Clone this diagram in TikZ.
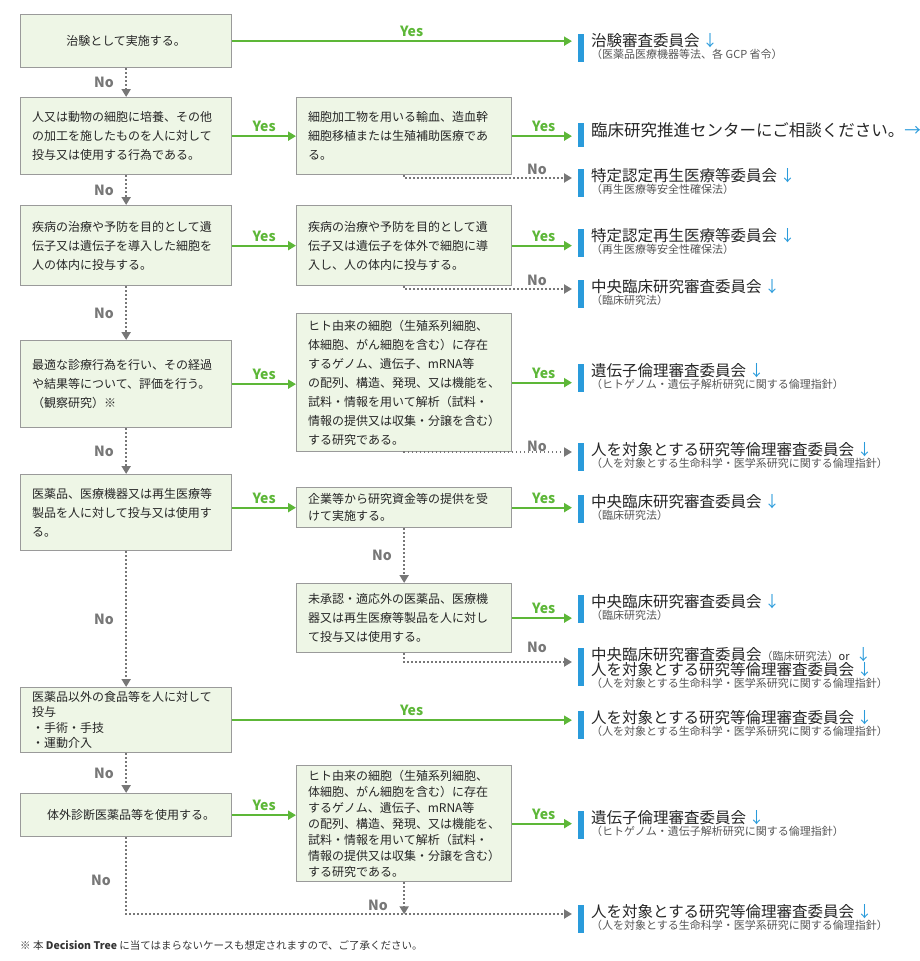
\documentclass[tikz,border=0pt]{standalone}
\usepackage{fontspec}
\setmainfont{Noto Sans CJK JP}
\usetikzlibrary{arrows.meta,calc}
\definecolor{gfill}{HTML}{EEF6E6}
\definecolor{gline}{HTML}{9A9A9A}
\definecolor{yesg}{HTML}{5DB738}
\definecolor{barb}{HTML}{2A9BDB}
\definecolor{nog}{HTML}{777777}
\definecolor{subg}{HTML}{555555}
\newcommand{\ttl}[1]{{\fontsize{15.5}{18}\selectfont #1}}
\newcommand{\sbt}[1]{{\fontsize{11}{14}\selectfont\color{subg}#1}}
\newcommand{\dn}{{\color{barb}\,↓}}
\begin{document}
\begin{tikzpicture}[x=1pt,y=-1pt,
 box/.style={draw=gline,line width=1.3pt,fill=gfill,anchor=north west,inner sep=0pt,
   font=\fontsize{12}{19}\selectfont,align=left,text=black!85},
 rl/.style={anchor=north west,inner sep=0pt,align=left,text=black!85},
 yes/.style={draw=yesg,line width=2pt,-{Triangle[length=8pt,width=9pt]}},
 no/.style={draw=nog,line width=2pt,dash pattern=on 1.5pt off 2.5pt,-{Triangle[length=8pt,width=9pt]}},
 yl/.style={text=yesg,font=\bfseries\fontsize{14}{14}\selectfont},
 nl/.style={text=nog,font=\bfseries\fontsize{14}{14}\selectfont}]
\useasboundingbox (0,0) rectangle (920,961);
% left boxes
\node[box,minimum width=211,minimum height=53,align=center] (b1) at (20,14) {治験として実施する。};
\node[box,minimum width=211,minimum height=77] (b2) at (20,97) {\hspace*{10pt}\parbox{198pt}{人又は動物の細胞に培養、その他\\の加工を施したものを人に対して\\投与又は使用する行為である。}};
\node[box,minimum width=211,minimum height=80] (b3) at (20,205) {\hspace*{10pt}\parbox{198pt}{疾病の治療や予防を目的として遺\\伝子又は遺伝子を導入した細胞を\\人の体内に投与する。}};
\node[box,minimum width=211,minimum height=87] (b4) at (20,340) {\hspace*{10pt}\parbox{198pt}{最適な診療行為を行い、その経過\\や結果等について、評価を行う。\\（観察研究）※}};
\node[box,minimum width=211,minimum height=76] (b5) at (20,474) {\hspace*{10pt}\parbox{198pt}{医薬品、医療機器又は再生医療等\\製品を人に対して投与又は使用す\\る。}};
\node[box,minimum width=211,minimum height=65] (b6) at (20,687) {\hspace*{10pt}\parbox{198pt}{\fontsize{12}{15.5}\selectfont 医薬品以外の食品等を人に対して\\投与\\・手術・手技\\・運動介入}};
\node[box,minimum width=211,minimum height=43] (b7) at (20,793) {\hspace*{10pt}体外診断医薬品等を使用する。};
% middle boxes
\node[box,minimum width=215,minimum height=77] (m2) at (296,97) {\hspace*{10pt}\parbox{202pt}{細胞加工物を用いる輸血、造血幹\\細胞移植または生殖補助医療であ\\る。}};
\node[box,minimum width=215,minimum height=80] (m3) at (296,205) {\hspace*{10pt}\parbox{202pt}{疾病の治療や予防を目的として遺\\伝子又は遺伝子を体外で細胞に導\\入し、人の体内に投与する。}};
\node[box,minimum width=215,minimum height=138] (m4) at (296,313) {\hspace*{10pt}\parbox{202pt}{ヒト由来の細胞（生殖系列細胞、\\体細胞、がん細胞を含む）に存在\\するゲノム、遺伝子、mRNA等\\の配列、構造、発現、又は機能を、\\試料・情報を用いて解析（試料・\\情報の提供又は収集・分譲を含む）\\する研究である。}};
\node[box,minimum width=215,minimum height=40] (m5) at (296,487) {\hspace*{10pt}\parbox{202pt}{\fontsize{12}{17}\selectfont 企業等から研究資金等の提供を受\\けて実施する。}};
\node[box,minimum width=215,minimum height=69] (m6) at (296,583) {\hspace*{10pt}\parbox{202pt}{未承認・適応外の医薬品、医療機\\器又は再生医療等製品を人に対し\\て投与又は使用する。}};
\node[box,minimum width=215,minimum height=116] (m7) at (296,765) {\hspace*{10pt}\parbox{202pt}{\fontsize{12}{16}\selectfont ヒト由来の細胞（生殖系列細胞、\\体細胞、がん細胞を含む）に存在\\するゲノム、遺伝子、mRNA等\\の配列、構造、発現、又は機能を、\\試料・情報を用いて解析（試料・\\情報の提供又は収集・分譲を含む）\\する研究である。}};
% right labels
\node[rl] (r1) at (591,33) {\ttl{治験審査委員会\dn}\\\sbt{（医薬品医療機器等法、各 GCP 省令）}};
\node[rl] (r2) at (591,122) {{\fontsize{16.5}{19}\selectfont 臨床研究推進センターにご相談ください。{\color{barb}→}}};
\node[rl] (r3) at (591,168) {\ttl{特定認定再生医療等委員会\dn}\\\sbt{（再生医療等安全性確保法）}};
\node[rl] (r4) at (591,228) {\ttl{特定認定再生医療等委員会\dn}\\\sbt{（再生医療等安全性確保法）}};
\node[rl] (r5) at (591,279) {\ttl{中央臨床研究審査委員会\dn}\\\sbt{（臨床研究法）}};
\node[rl] (r6) at (591,363) {\ttl{遺伝子倫理審査委員会\dn}\\\sbt{（ヒトゲノム・遺伝子解析研究に関する倫理指針）}};
\node[rl] (r7) at (591,442) {\ttl{人を対象とする研究等倫理審査委員会\dn}\\\sbt{（人を対象とする生命科学・医学系研究に関する倫理指針）}};
\node[rl] (r8) at (591,494) {\ttl{中央臨床研究審査委員会\dn}\\\sbt{（臨床研究法）}};
\node[rl] (r9) at (591,594) {\ttl{中央臨床研究審査委員会\dn}\\\sbt{（臨床研究法）}};
\node[rl] (r10) at (591,647) {\ttl{中央臨床研究審査委員会}{\fontsize{11}{12}\selectfont\color{subg}（臨床研究法）{\color{black!85}or}}\hspace*{6pt}{\ttl{\color{barb}↓}}\\\ttl{人を対象とする研究等倫理審査委員会\dn}\\\sbt{（人を対象とする生命科学・医学系研究に関する倫理指針）}};
\node[rl] (r11) at (591,710) {\ttl{人を対象とする研究等倫理審査委員会\dn}\\\sbt{（人を対象とする生命科学・医学系研究に関する倫理指針）}};
\node[rl] (r12) at (591,810) {\ttl{遺伝子倫理審査委員会\dn}\\\sbt{（ヒトゲノム・遺伝子解析研究に関する倫理指針）}};
\node[rl] (r13) at (591,904) {\ttl{人を対象とする研究等倫理審査委員会\dn}\\\sbt{（人を対象とする生命科学・医学系研究に関する倫理指針）}};
% blue bars
\foreach \r/\h in {r1/28,r2/24,r3/28,r4/28,r5/28,r6/28,r7/28,r8/28,r9/28,r10/38,r11/28,r12/28,r13/28}
  \fill[barb] ($(\r.north west)+(-13,1)$) rectangle ++(6,\h);
% yes arrows
\draw[yes,shorten >=19pt] (b1.east) -- (b1.east -| r1.west) node[pos=0.5,above,yl] {Yes};
\draw[yes] (b2) -- (m2) node[midway,above,yl] {Yes};
\draw[yes,shorten >=19pt] (m2.east) -- (m2.east -| r2.west) node[pos=0.4,above,yl] {Yes};
\draw[yes] (b3) -- (m3) node[midway,above,yl] {Yes};
\draw[yes,shorten >=19pt] (m3.east) -- (m3.east -| r4.west) node[pos=0.4,above,yl] {Yes};
\draw[yes] (b4) -- (b4 -| m4.west) node[midway,above,yl] {Yes};
\draw[yes,shorten >=19pt] (m4.east) -- (m4.east -| r6.west) node[pos=0.4,above,yl] {Yes};
\draw[yes] (b5.east |- m5) -- (m5) node[midway,above,yl] {Yes};
\draw[yes,shorten >=19pt] (m5.east) -- (m5.east -| r8.west) node[pos=0.4,above,yl] {Yes};
\draw[yes,shorten >=19pt] (m6.east) -- (m6.east -| r9.west) node[pos=0.4,above,yl] {Yes};
\draw[yes,shorten >=19pt] (b6.east) -- (b6.east -| r11.west) node[pos=0.5,above,yl] {Yes};
\draw[yes] (b7) -- (b7 -| m7.west) node[midway,above,yl] {Yes};
\draw[yes,shorten >=19pt] (m7.east) -- (m7.east -| r12.west) node[pos=0.4,above,yl] {Yes};
% no arrows (left column)
\draw[no] (b1) -- (b2) node[midway,left=8pt,nl] {No};
\draw[no] (b2) -- (b3) node[midway,left=8pt,nl] {No};
\draw[no] (b3) -- (b4) node[midway,left=8pt,nl] {No};
\draw[no] (b4) -- (b5) node[midway,left=8pt,nl] {No};
\draw[no] (b5) -- (b6) node[midway,left=8pt,nl] {No};
\draw[no] (b6) -- (b7) node[midway,left=8pt,nl] {No};
\draw[no,shorten >=19pt] (b7.south) |- ($(r13.north west)+(0,10)$);
\node[nl] at (101,880) {No};
% no arrows (middle column)
\draw[no,shorten >=19pt] (m2.south) |- ($(r3.north west)+(0,10)$);
\node[nl] at (537,169) {No};
\draw[no,shorten >=19pt] (m3.south) |- ($(r5.north west)+(0,10)$);
\node[nl] at (537,280) {No};
\draw[no,shorten >=19pt] (m4.south) |- ($(r7.north west)+(0,10)$);
\node[nl] at (537,446) {No};
\draw[no] (m5) -- (m6) node[midway,left=8pt,nl] {No};
\draw[no,shorten >=19pt] (m6.south) |- ($(r10.north west)+(0,15)$);
\node[nl] at (537,647) {No};
\coordinate (m7e) at ($(m7.south)+(0,32)$);
\draw[no] (m7.south) -- (m7e);
\node[nl] at (378,905) {No};
% footnote
\node[anchor=west,inner sep=0pt,font=\fontsize{10.5}{12}\selectfont,text=black!80] (fn) at (20,946) {※ 本 \textbf{Decision Tree} に当てはまらないケースも想定されますので、ご了承ください。};
\end{tikzpicture}
\end{document}
